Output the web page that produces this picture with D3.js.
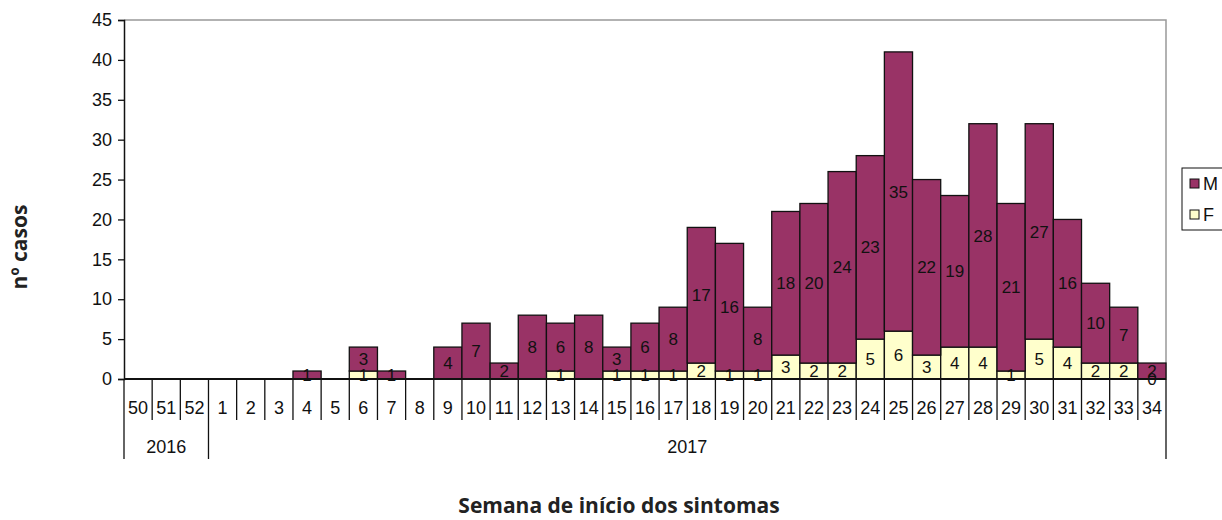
<!DOCTYPE html>
<html lang="pt">
  <head>
    <meta charset="UTF-8" />
    <title>Casos por semana de início dos sintomas</title>
    <script src="https://d3js.org/d3.v7.min.js"></script>
    <style>
      body { margin: 0; background: #fff; }
      text { font-family: "Liberation Sans", Arial, sans-serif; fill: #111; }
      .title { font-family: "Open Sans", "Noto Sans", sans-serif; font-weight: 700; fill: #222; }
    </style>
  </head>
  <body>
    <svg id="chart" width="1222" height="520"></svg>

    <script>
      // weeks (2016: 50-52, 2017: 1-34)
      const weeks = ["50", "51", "52", "1", "2", "3", "4", "5", "6", "7", "8", "9", "10",
        "11", "12", "13", "14", "15", "16", "17", "18", "19", "20", "21", "22", "23",
        "24", "25", "26", "27", "28", "29", "30", "31", "32", "33", "34"];
      const yearLabels = ["2016", "2017"];
      const yearWeekCount = [3, 34];

      // null = no segment / no label
      const valuesF = [null, null, null, null, null, null, null, null, 1, null, null, null, null,
        null, null, 1, null, 1, 1, 1, 2, 1, 1, 3, 2, 2,
        5, 6, 3, 4, 4, 1, 5, 4, 2, 2, 0];
      const valuesM = [null, null, null, null, null, null, 1, null, 3, 1, null, 4, 7,
        2, 8, 6, 8, 3, 6, 8, 17, 16, 8, 18, 20, 24,
        23, 35, 22, 19, 28, 21, 27, 16, 10, 7, 2];

      const yTicks = [0, 5, 10, 15, 20, 25, 30, 35, 40, 45];
      const seriesNames = ["M", "F"];

      const colors = { M: "#993366", F: "#ffffcc" };

      const svg = d3.select("#chart");
      const plotLeft = 124, plotRight = 1166, plotTop = 20, plotBottom = 379;

      const x = d3.scaleBand().domain(weeks).range([plotLeft, plotRight]).padding(0);
      const y = d3.scaleLinear().domain([0, 45]).range([plotBottom, plotTop]);

      const rows = weeks.map((w, i) => ({ week: w, F: valuesF[i] || 0, M: valuesM[i] || 0, fRaw: valuesF[i], mRaw: valuesM[i] }));
      const stacked = d3.stack().keys(["F", "M"])(rows);

      // plot frame (gray top/right)
      svg.append("path")
        .attr("d", `M${plotLeft},${plotTop}H${plotRight}V${plotBottom}`)
        .attr("fill", "none")
        .attr("stroke", "#999")
        .attr("stroke-width", 1.5);

      // bars
      stacked.forEach((layer) => {
        const key = layer.key;
        svg.append("g")
          .selectAll("rect")
          .data(layer.filter((d) => d[1] - d[0] > 0))
          .enter()
          .append("rect")
          .attr("x", (d) => x(d.data.week))
          .attr("width", x.bandwidth())
          .attr("y", (d) => y(d[1]))
          .attr("height", (d) => y(d[0]) - y(d[1]))
          .attr("fill", colors[key])
          .attr("stroke", "#111")
          .attr("stroke-width", 1.3);
      });

      // value labels
      stacked.forEach((layer) => {
        const key = layer.key;
        const raw = key === "F" ? "fRaw" : "mRaw";
        svg.append("g")
          .selectAll("text")
          .data(layer.filter((d) => d.data[raw] !== null))
          .enter()
          .append("text")
          .attr("x", (d) => x(d.data.week) + x.bandwidth() / 2)
          .attr("y", (d) => y((d[0] + d[1]) / 2))
          .attr("dy", "0.36em")
          .attr("text-anchor", "middle")
          .style("font-size", "17px")
          .text((d) => d.data[raw]);
      });

      // y axis
      const yAxis = svg.append("g")
        .attr("transform", `translate(${plotLeft},0)`)
        .call(d3.axisLeft(y).tickValues(yTicks).tickSize(6).tickPadding(6));
      yAxis.select(".domain").attr("stroke", "#111").attr("stroke-width", 1.5);
      yAxis.selectAll(".tick line").attr("stroke", "#111").attr("stroke-width", 1.3);
      yAxis.selectAll(".tick text").style("font-size", "18px").style("font-family", "Liberation Sans, Arial, sans-serif").attr("fill", "#111");

      // x axis line
      svg.append("line")
        .attr("x1", plotLeft).attr("x2", plotRight)
        .attr("y1", y(0)).attr("y2", y(0))
        .attr("stroke", "#111").attr("stroke-width", 2);

      // week separators and labels
      const sepBottom = 420, yearBottom = 459;
      const boundaries = weeks.map((w) => x(w)).concat([plotRight]);
      const yearStarts = [0];
      yearWeekCount.forEach((c, i) => yearStarts.push(yearStarts[i] + c));

      boundaries.forEach((bx, i) => {
        const isYear = yearStarts.includes(i);
        svg.append("line")
          .attr("x1", bx).attr("x2", bx)
          .attr("y1", y(0)).attr("y2", isYear ? yearBottom : sepBottom)
          .attr("stroke", "#111").attr("stroke-width", 1.3);
      });

      svg.append("g")
        .selectAll("text")
        .data(weeks)
        .enter()
        .append("text")
        .attr("x", (d) => x(d) + x.bandwidth() / 2)
        .attr("y", 408)
        .attr("dy", "0.36em")
        .attr("text-anchor", "middle")
        .style("font-size", "18px")
        .text((d) => d);

      yearLabels.forEach((lab, i) => {
        const x0 = x(weeks[yearStarts[i]]);
        const x1 = yearStarts[i + 1] < weeks.length ? x(weeks[yearStarts[i + 1]]) : plotRight;
        svg.append("text")
          .attr("x", (x0 + x1) / 2)
          .attr("y", 447)
          .attr("dy", "0.36em")
          .attr("text-anchor", "middle")
          .style("font-size", "18px")
          .text(lab);
      });

      // axis titles
      svg.append("text")
        .attr("class", "title")
        .attr("transform", `translate(27,247) rotate(-90)`)
        .attr("text-anchor", "middle")
        .style("font-size", "21px")
        .text("nº casos");

      svg.append("text")
        .attr("class", "title")
        .attr("x", 619)
        .attr("y", 513)
        .attr("text-anchor", "middle")
        .style("font-size", "21px")
        .text("Semana de início dos sintomas");

      // legend
      const legend = svg.append("g").attr("transform", "translate(1182,168)");
      legend.append("rect")
        .attr("width", 60).attr("height", 62)
        .attr("fill", "#fff").attr("stroke", "#111").attr("stroke-width", 1);
      seriesNames.forEach((s, i) => {
        legend.append("rect")
          .attr("x", 8).attr("y", 11 + i * 31)
          .attr("width", 9).attr("height", 9)
          .attr("fill", colors[s]).attr("stroke", "#111").attr("stroke-width", 1);
        legend.append("text")
          .attr("x", 21).attr("y", 16 + i * 31)
          .attr("dy", "0.36em")
          .style("font-size", "18px")
          .text(s);
      });
    </script>
  </body>
</html>
